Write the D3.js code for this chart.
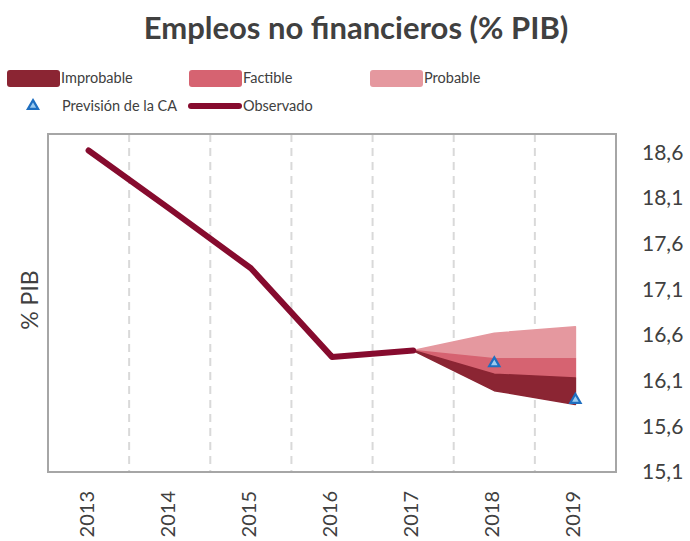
<!DOCTYPE html>
<html>
<head>
<meta charset="utf-8">
<script src="https://cdn.jsdelivr.net/npm/d3@7"></script>
<style>
  body { margin: 0; background: #fff; }
  text { font-family: Lato, "Open Sans", sans-serif; fill: #404040; }
</style>
</head>
<body>
<div id="chart"></div>
<script>
// datos
const years = ["2013", "2014", "2015", "2016", "2017", "2018", "2019"];
const obsYears = ["2013", "2014", "2015", "2016", "2017"];
const observado = [18.62, 17.98, 17.33, 16.36, 16.43];
const fanYears = ["2017", "2018", "2019"];
const improbableLow = [16.43, 15.99, 15.84];
const improbableHigh = [16.43, 16.17, 16.13];
const factibleHigh = [16.43, 16.34, 16.34];
const probableHigh = [16.43, 16.62, 16.69];
const prevYears = ["2018", "2019"];
const prevision = [16.29, 15.89];
const yTicks = [15.1, 15.6, 16.1, 16.6, 17.1, 17.6, 18.1, 18.6];

const W = 690, H = 541;
const plot = { left: 48, right: 616, top: 134, bottom: 472 };

const svg = d3.select("#chart").append("svg")
    .attr("width", W)
    .attr("height", H);

const x = d3.scaleBand()
    .domain(years)
    .range([plot.left, plot.right]);
const cx = d => x(d) + x.bandwidth() / 2;

const y = d3.scaleLinear()
    .domain([15.1, 18.8])
    .range([plot.bottom, plot.top]);

// titulo
svg.append("text")
    .attr("x", 356)
    .attr("y", 39)
    .attr("text-anchor", "middle")
    .style("font-size", "31px")
    .style("font-weight", "bold")
    .text("Empleos no financieros (% PIB)");

// leyenda
const colImp = "#8B2533", colFac = "#D66371", colPro = "#E5989F", colObs = "#860B2E";
const legendBoxes = [
    { label: "Improbable", color: colImp, x: 7 },
    { label: "Factible", color: colFac, x: 189 },
    { label: "Probable", color: colPro, x: 370 }
];
legendBoxes.forEach(d => {
    svg.append("rect")
        .attr("x", d.x).attr("y", 70)
        .attr("width", 53).attr("height", 17)
        .attr("rx", 3)
        .attr("fill", d.color);
    svg.append("text")
        .attr("x", d.x + 54).attr("y", 83)
        .style("font-size", "14.5px")
        .text(d.label);
});
svg.append("path")
    .attr("d", d3.symbol(d3.symbolTriangle, 45)())
    .attr("transform", "translate(33,106)")
    .attr("fill", "#9CCBEF")
    .attr("stroke", "#1F6FC0")
    .attr("stroke-width", 2.2);
svg.append("text")
    .attr("x", 62).attr("y", 111)
    .style("font-size", "14.5px")
    .text("Previsión de la CA");
svg.append("line")
    .attr("x1", 191).attr("x2", 239)
    .attr("y1", 106).attr("y2", 106)
    .attr("stroke", colObs)
    .attr("stroke-width", 6)
    .attr("stroke-linecap", "round");
svg.append("text")
    .attr("x", 243).attr("y", 111)
    .style("font-size", "14.5px")
    .text("Observado");

// rejilla
svg.append("g")
    .selectAll("line")
    .data(years.slice(1))
    .join("line")
    .attr("x1", d => x(d)).attr("x2", d => x(d))
    .attr("y1", plot.top).attr("y2", plot.bottom)
    .attr("stroke", "#D9D9D9")
    .attr("stroke-width", 2)
    .attr("stroke-dasharray", "8,6");

// abanico
const fan = fanYears.map((yr, i) => ({
    yr,
    lo: improbableLow[i],
    imp: improbableHigh[i],
    fac: factibleHigh[i],
    pro: probableHigh[i]
}));
const band = (a, b) => d3.area()
    .x(d => cx(d.yr))
    .y0(d => y(d[a]))
    .y1(d => y(d[b]));
[["fac", "pro", colPro], ["imp", "fac", colFac], ["lo", "imp", colImp]].forEach(([a, b, c]) => {
    svg.append("path")
        .datum(fan)
        .attr("d", band(a, b))
        .attr("fill", c)
        .attr("stroke", c)
        .attr("stroke-width", 1.5)
        .attr("stroke-linejoin", "round");
});

// observado
svg.append("path")
    .datum(obsYears.map((yr, i) => ({ yr, v: observado[i] })))
    .attr("d", d3.line().x(d => cx(d.yr)).y(d => y(d.v)))
    .attr("fill", "none")
    .attr("stroke", colObs)
    .attr("stroke-width", 6)
    .attr("stroke-linecap", "round")
    .attr("stroke-linejoin", "round");

// prevision CA
svg.append("g")
    .selectAll("path")
    .data(prevYears.map((yr, i) => ({ yr, v: prevision[i] })))
    .join("path")
    .attr("d", d3.symbol(d3.symbolTriangle, 45)())
    .attr("transform", d => `translate(${cx(d.yr)},${y(d.v)})`)
    .attr("fill", "#9CCBEF")
    .attr("stroke", "#1F6FC0")
    .attr("stroke-width", 2.2);

// marco
svg.append("rect")
    .attr("x", plot.left).attr("y", plot.top)
    .attr("width", plot.right - plot.left)
    .attr("height", plot.bottom - plot.top)
    .attr("fill", "none")
    .attr("stroke", "#A6A6A6")
    .attr("stroke-width", 2);

// eje y derecho
const yAxis = svg.append("g")
    .attr("transform", `translate(${plot.right},0)`)
    .call(d3.axisRight(y).tickValues(yTicks)
        .tickFormat(d => d3.format(".1f")(d).replace(".", ","))
        .tickSize(0).tickPadding(26));
yAxis.select(".domain").remove();
yAxis.selectAll("text")
    .style("font-size", "21px")
    .style("font-family", "Lato, sans-serif")
    .attr("fill", "#404040");

// eje x
const xAxis = svg.append("g")
    .attr("transform", `translate(0,${plot.bottom})`)
    .call(d3.axisBottom(x).tickSize(0));
xAxis.select(".domain").remove();
xAxis.selectAll("text")
    .attr("transform", "rotate(-90)")
    .attr("x", -19)
    .attr("y", -2)
    .attr("dy", "0.35em")
    .style("text-anchor", "end")
    .style("font-size", "20px")
    .style("font-family", "Lato, sans-serif")
    .attr("fill", "#404040");

// titulo eje y
svg.append("text")
    .attr("transform", "translate(38,300) rotate(-90)")
    .attr("text-anchor", "middle")
    .style("font-size", "23px")
    .text("% PIB");
</script>
</body>
</html>
